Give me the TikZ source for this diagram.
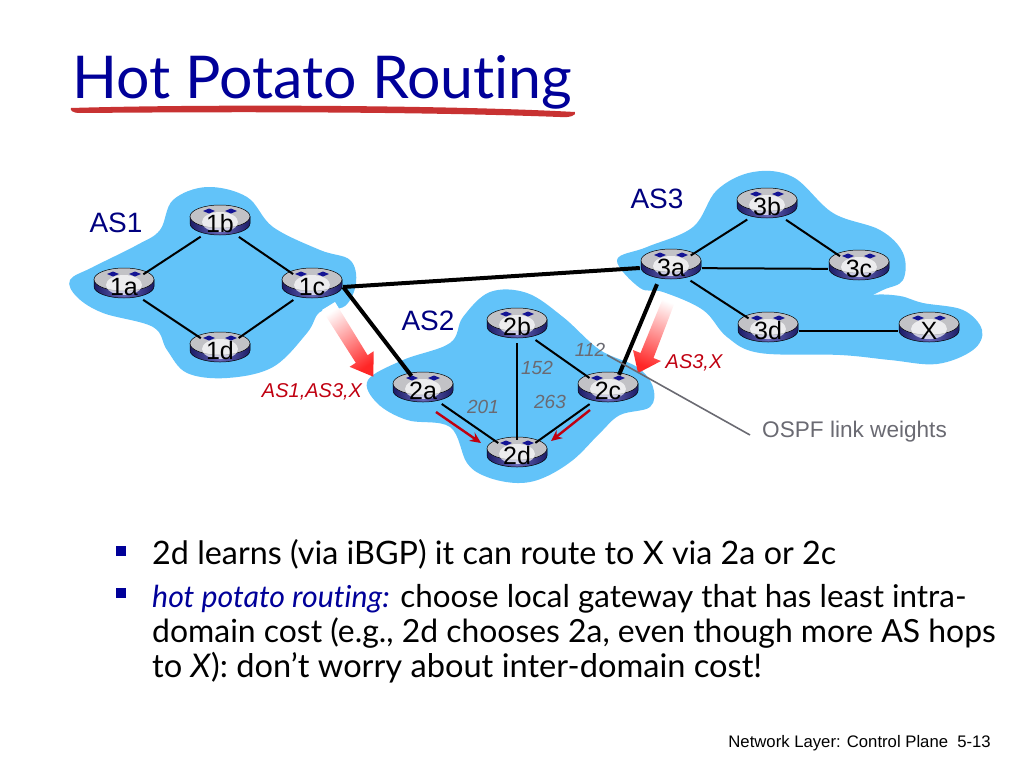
\documentclass[tikz,border=0pt]{standalone}
\usepackage{fontspec}
\setmainfont{Lato}[RawFeature=-liga]
\setsansfont{Liberation Sans}
\usetikzlibrary{shapes.geometric, arrows.meta}

\definecolor{cloudblue}{HTML}{62C3F9}
\definecolor{titlenavy}{HTML}{000099}
\definecolor{asnavy}{HTML}{00007F}
\definecolor{bgpred}{HTML}{C00010}
\definecolor{brushred}{HTML}{C83232}
\definecolor{weightgray}{HTML}{6A6A72}
\definecolor{routerdark}{HTML}{1C1C66}
\definecolor{routermid}{HTML}{6666B8}
\definecolor{routertop}{HTML}{C2C2C6}

\newcommand{\pxfont}[1]{\fontsize{#1}{#1}\selectfont}

\tikzset{
  cloud/.style = {fill=cloudblue},
  router/.pic = {
    \path[left color=routerdark, right color=routerdark, middle color=routermid, draw=black, line width=0.5pt]
      (-30,-3.5) -- (-30,3.5) .. controls (-30,10) and (-16,15) .. (0,15) .. controls (16,15) and (30,10) .. (30,3.5)
      -- (30,-3.5) -- cycle;
    \fill[routertop, draw=black, line width=0.5pt] (0,-3.5) ellipse [x radius=30, y radius=11.5];
    \fill[white, opacity=0.7] (0,2) ellipse [x radius=18, y radius=10];
    \fill[routerdark!70!blue] (-17,-9) -- (-11,-11.5) -- (-5,-9) -- (-11,-6.5) -- cycle;
    \fill[routerdark!70!blue] (17,-9) -- (11,-11.5) -- (5,-9) -- (11,-6.5) -- cycle;
  },
  routerlabel/.style = {shape=ellipse, inner sep=0pt, minimum width=62pt, minimum height=32pt, font=\sffamily\pxfont{25}},
  link/.style = {line width=2pt},
  peering/.style = {line width=4pt},
  aslabel/.style = {text=asnavy, font=\sffamily\pxfont{28}},
  weight/.style = {text=weightgray, font=\sffamily\itshape\pxfont{19}},
  bgplabel/.style = {text=bgpred, font=\sffamily\itshape\pxfont{20}},
  bgparrow/.style = {draw=none, top color=white, bottom color=red!85!white},
  hotarrow/.style = {-{Stealth[length=11pt, width=10pt]}, draw=bgpred, line width=2.4pt},
  bodyline/.style = {anchor=base west, inner sep=0pt},
  bullet/.style = {fill=titlenavy, inner sep=0pt, minimum size=10pt}
}

\begin{document}
\begin{tikzpicture}[x=1pt, y=-1pt]
  \useasboundingbox (0,0) rectangle (1024,768);

  % title
  \node[anchor=base west, inner sep=0pt, text=titlenavy, font=\pxfont{59}] (title) at (72,98) {Hot Potato Routing};
  \fill[brushred] (71,108) .. controls (200,104) and (450,105) .. (575,112)
    .. controls (577,115) and (570,118) .. (560,117)
    .. controls (400,111) and (200,112) .. (80,113) .. controls (72,113) and (70,110) .. (71,108) -- cycle;

  % AS clouds
  \fill[cloud] plot[smooth cycle, tension=0.6] coordinates {(70,280) (93,267) (137,245) (160,230) (173,200) (207,187)
    (247,197) (273,227) (320,250) (350,260) (356,283) (345,306) (320,312) (307,333) (273,367) (227,378)
    (187,373) (167,350) (153,327) (103,313) (77,297)};
  \fill[cloud] plot[smooth cycle, tension=0.6] coordinates {(368,380) (403,360) (450,343) (463,317) (490,292) (527,293)
    (563,317) (600,350) (637,367) (653,387) (650,407) (620,415) (600,433) (573,460) (543,478) (517,483)
    (487,477) (467,463) (450,427) (407,420) (377,403)};
  \fill[cloud] plot[smooth cycle, tension=0.6] coordinates {(617,260) (647,247) (693,227) (717,190) (753,172) (793,177)
    (833,213) (880,230) (903,253) (903,280) (883,290) (856,303) (873,295) (900,296) (923,303) (963,310) (982,330)
    (973,350) (937,364) (890,360) (840,355) (760,353) (727,337) (703,310) (663,292) (640,288)};

  % BGP advertisement arrows
  \shade[bgparrow, shading angle=35] (322,310) -- (335,302) -- (367.6,355.2) -- (373.7,351.2) -- (373.3,376.7)
    -- (349.6,366.8) -- (355.8,362.8) -- cycle;
  \shade[bgparrow, shading angle=-22] (665,293) -- (675,302) -- (653.5,358) -- (661,361) -- (638,373)
    -- (633,350) -- (640.5,353) -- cycle;

  % routers
  \foreach \name/\x/\y in {1a/124/283, 1b/220/220, 1c/312/283, 1d/220/347, 2a/423/387, 2b/517/323, 2c/608/387,
      2d/517/452, 3a/671/264, 3b/767/203, 3c/859/265, 3d/768/327, X/929/327}
    {
      \pic at (\x,\y) {router};
      \node[routerlabel] (\name) at (\x,\y+4) {\name};
    }

  % links
  \draw[link] (1a) -- (1b);
  \draw[link] (1b) -- (1c);
  \draw[link] (1a) -- (1d);
  \draw[link] (1d) -- (1c);
  \draw[link] (2a) -- (2d);
  \draw[link] (2b) -- (2d);
  \draw[link] (2b) -- (2c);
  \draw[link] (2c) -- (2d);
  \draw[link] (3a) -- (3b);
  \draw[link] (3b) -- (3c);
  \draw[link] (3a) -- (3c);
  \draw[link] (3a) -- (3d);
  \draw[link] (3d) -- (X);
  \draw[peering] (1c.east) -- (3a.west);
  \draw[peering] (1c.east) -- (2a);
  \draw[peering] ([xshift=-14pt]3a.south) -- ([xshift=11pt]2c.north);

  % labels
  \node[aslabel] (as1) at (116,223) {AS1};
  \node[aslabel] (as2) at (428,321) {AS2};
  \node[aslabel] (as3) at (657,199) {AS3};
  \node[weight] (w112) at (590,350) {112};
  \node[weight] (w152) at (537,368) {152};
  \node[weight] (w263) at (550,402) {263};
  \node[weight] (w201) at (483,407) {201};
  \node[bgplabel] (bgp1) at (312,392) {AS1,AS3,X};
  \node[bgplabel] (bgp3) at (694,363) {AS3,X};

  % hot potato arrows
  \coordinate (hota) at (436,412);
  \coordinate (hotb) at (481,443);
  \coordinate (hotc) at (590,410);
  \coordinate (hotd) at (551,441);
  \draw[hotarrow] (hota) -- (hotb);
  \draw[hotarrow] (hotc) -- (hotd);

  % weights callout
  \node[anchor=west, inner sep=0pt, text=weightgray, font=\sffamily\pxfont{22.6}] (ospf) at (762,432) {OSPF link weights};
  \coordinate (ospfend) at (607,355);
  \draw[weightgray, line width=1.6pt] (ospfend) -- ([xshift=-12pt,yshift=-3pt]ospf.west);

  % bullets
  \node[bullet] (b1) at (121,551) {};
  \node[bullet] (b2) at (121,593) {};
  \node[bodyline, font=\pxfont{32.3}] (line1) at (152,564) {2d learns (via iBGP) it can route to X via 2a or 2c};
  \node[bodyline, font=\pxfont{31.4}] (line2) at (152,607) {{\color{titlenavy}\itshape\pxfont{30.3}hot potato routing:} choose local gateway that has least intra-};
  \node[bodyline, font=\pxfont{31.9}] (line3) at (152,642) {domain cost (e.g., 2d chooses 2a, even though more AS hops};
  \node[bodyline, font=\pxfont{32.6}] (line4) at (152,677) {to \textit{X}): don’t worry about inter-domain cost!};

  % footer
  \node[anchor=base east, inner sep=0pt, font=\sffamily\pxfont{16.7}] (footer) at (991,747) {Network Layer: Control Plane\ \ 5-13};
\end{tikzpicture}
\end{document}
